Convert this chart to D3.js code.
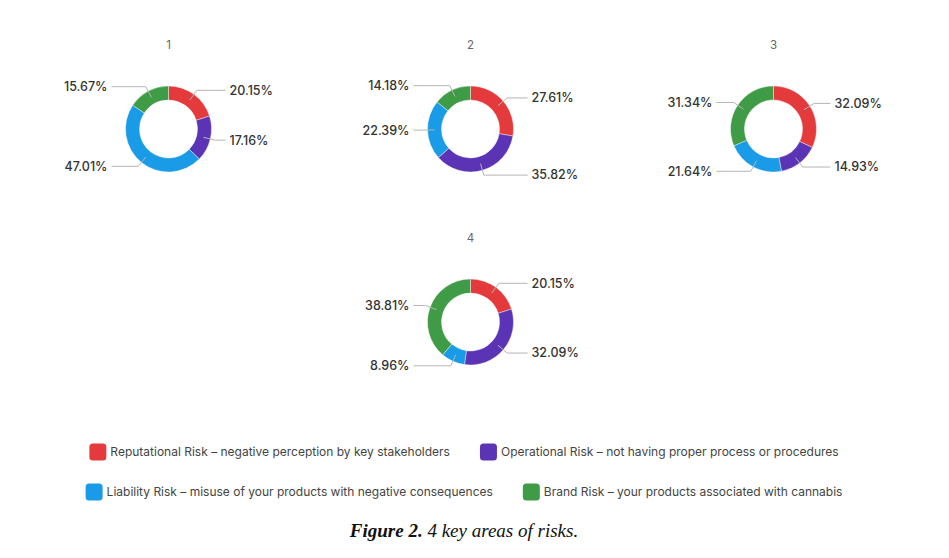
<!DOCTYPE html>
<html>
<head>
<meta charset="utf-8">
<title>4 key areas of risks</title>
<style>
body { margin: 0; background: #fff; }
.lbl { font-family: Inter, Roboto, sans-serif; font-size: 12.5px; font-weight: 500; fill: #333; }
.ttl { font-family: Inter, Roboto, sans-serif; font-size: 11.5px; fill: #666; }
.leg { font-family: Inter, Roboto, sans-serif; font-size: 12px; fill: #444; }
.cap { font-family: "Liberation Serif", "Times New Roman", serif; font-size: 19px; font-style: italic; fill: #111; }
</style>
</head>
<body>
<div id="graphic"></div>
<script src="https://cdn.jsdelivr.net/npm/d3@7"></script>
<script>
var categories = [
  "Reputational Risk – negative perception by key stakeholders",
  "Operational Risk – not having proper process or procedures",
  "Liability Risk – misuse of your products with negative consequences",
  "Brand Risk – your products associated with cannabis"
];
var chartTitles = ["1", "2", "3", "4"];
var reputational = [20.15, 27.61, 32.09, 20.15];
var operational = [17.16, 35.82, 14.93, 32.09];
var liability = [47.01, 22.39, 21.64, 8.96];
var brand = [15.67, 14.18, 31.34, 38.81];
var colors = ["#e53a3b", "#5b34b6", "#1a9be7", "#3f9b46"];

var w = 949, h = 558;
var outerR = 43, innerR = 29;
// chart centres
var centres = [[168.5, 129], [470.5, 129], [773.5, 129], [470.5, 322]];

var svg = d3.select("#graphic").append("svg")
    .attr("width", w)
    .attr("height", h);

var color = d3.scaleOrdinal().domain(categories).range(colors);
var pie = d3.pie().sort(null).value(function(d) { return d.value; });
var arc = d3.arc().innerRadius(innerR).outerRadius(outerR);
var midArc = d3.arc().innerRadius((innerR + outerR) / 2).outerRadius((innerR + outerR) / 2);
var kinkArc = d3.arc().innerRadius(outerR + 5).outerRadius(outerR + 5);

chartTitles.forEach(function(t, i) {
    var data = [reputational[i], operational[i], liability[i], brand[i]].map(function(v, k) {
        return { cat: categories[k], value: v };
    });
    var c = centres[i];
    var g = svg.append("g").attr("transform", "translate(" + c[0] + "," + c[1] + ")");

    g.append("text").attr("class", "ttl")
        .attr("x", 0).attr("y", -80)
        .attr("text-anchor", "middle")
        .text(t);

    var arcs = pie(data);

    g.selectAll("path.slice")
        .data(arcs)
        .enter().append("path")
        .attr("class", "slice")
        .attr("d", arc)
        .attr("fill", function(d) { return color(d.data.cat); })
        .attr("stroke", "#fff")
        .attr("stroke-width", 0.4);

    g.selectAll("polyline")
        .data(arcs)
        .enter().append("polyline")
        .attr("points", function(d) {
            var a = midArc.centroid(d), b = kinkArc.centroid(d);
            var right = (d.startAngle + d.endAngle) / 2 < Math.PI;
            return [a, b, [right ? 57 : -57, b[1]]].join(" ");
        })
        .attr("fill", "none")
        .attr("stroke", "#b5b5b5")
        .attr("stroke-width", 1);

    g.selectAll("text.lbl")
        .data(arcs)
        .enter().append("text")
        .attr("class", "lbl")
        .attr("x", function(d) { return (d.startAngle + d.endAngle) / 2 < Math.PI ? 61 : -61; })
        .attr("y", function(d) { return kinkArc.centroid(d)[1]; })
        .attr("dy", "0.35em")
        .attr("text-anchor", function(d) { return (d.startAngle + d.endAngle) / 2 < Math.PI ? "start" : "end"; })
        .text(function(d) { return d.data.value.toFixed(2) + "%"; });
});

// legend: two centred rows
var rows = [[categories[0], categories[1]], [categories[2], categories[3]]];
var rowY = [452, 492];
rows.forEach(function(row, r) {
    var lg = svg.append("g");
    var x = 0;
    row.forEach(function(cat, k) {
        var item = lg.append("g").attr("transform", "translate(" + x + ",0)");
        item.append("rect")
            .attr("x", 0).attr("y", -8.5)
            .attr("width", 17).attr("height", 17)
            .attr("rx", 3.5)
            .attr("fill", color(cat));
        var txt = item.append("text").attr("class", "leg")
            .attr("x", 21).attr("dy", "0.35em")
            .text(cat);
        x += 21 + txt.node().getComputedTextLength() + 30;
    });
    var total = x - 30;
    lg.attr("transform", "translate(" + (464 - total / 2) + "," + rowY[r] + ")");
});

var cap = svg.append("text").attr("class", "cap")
    .attr("x", 464).attr("y", 537)
    .attr("text-anchor", "middle");
cap.append("tspan").attr("font-weight", "bold").text("Figure 2.");
cap.append("tspan").text(" 4 key areas of risks.");
</script>
</body>
</html>
